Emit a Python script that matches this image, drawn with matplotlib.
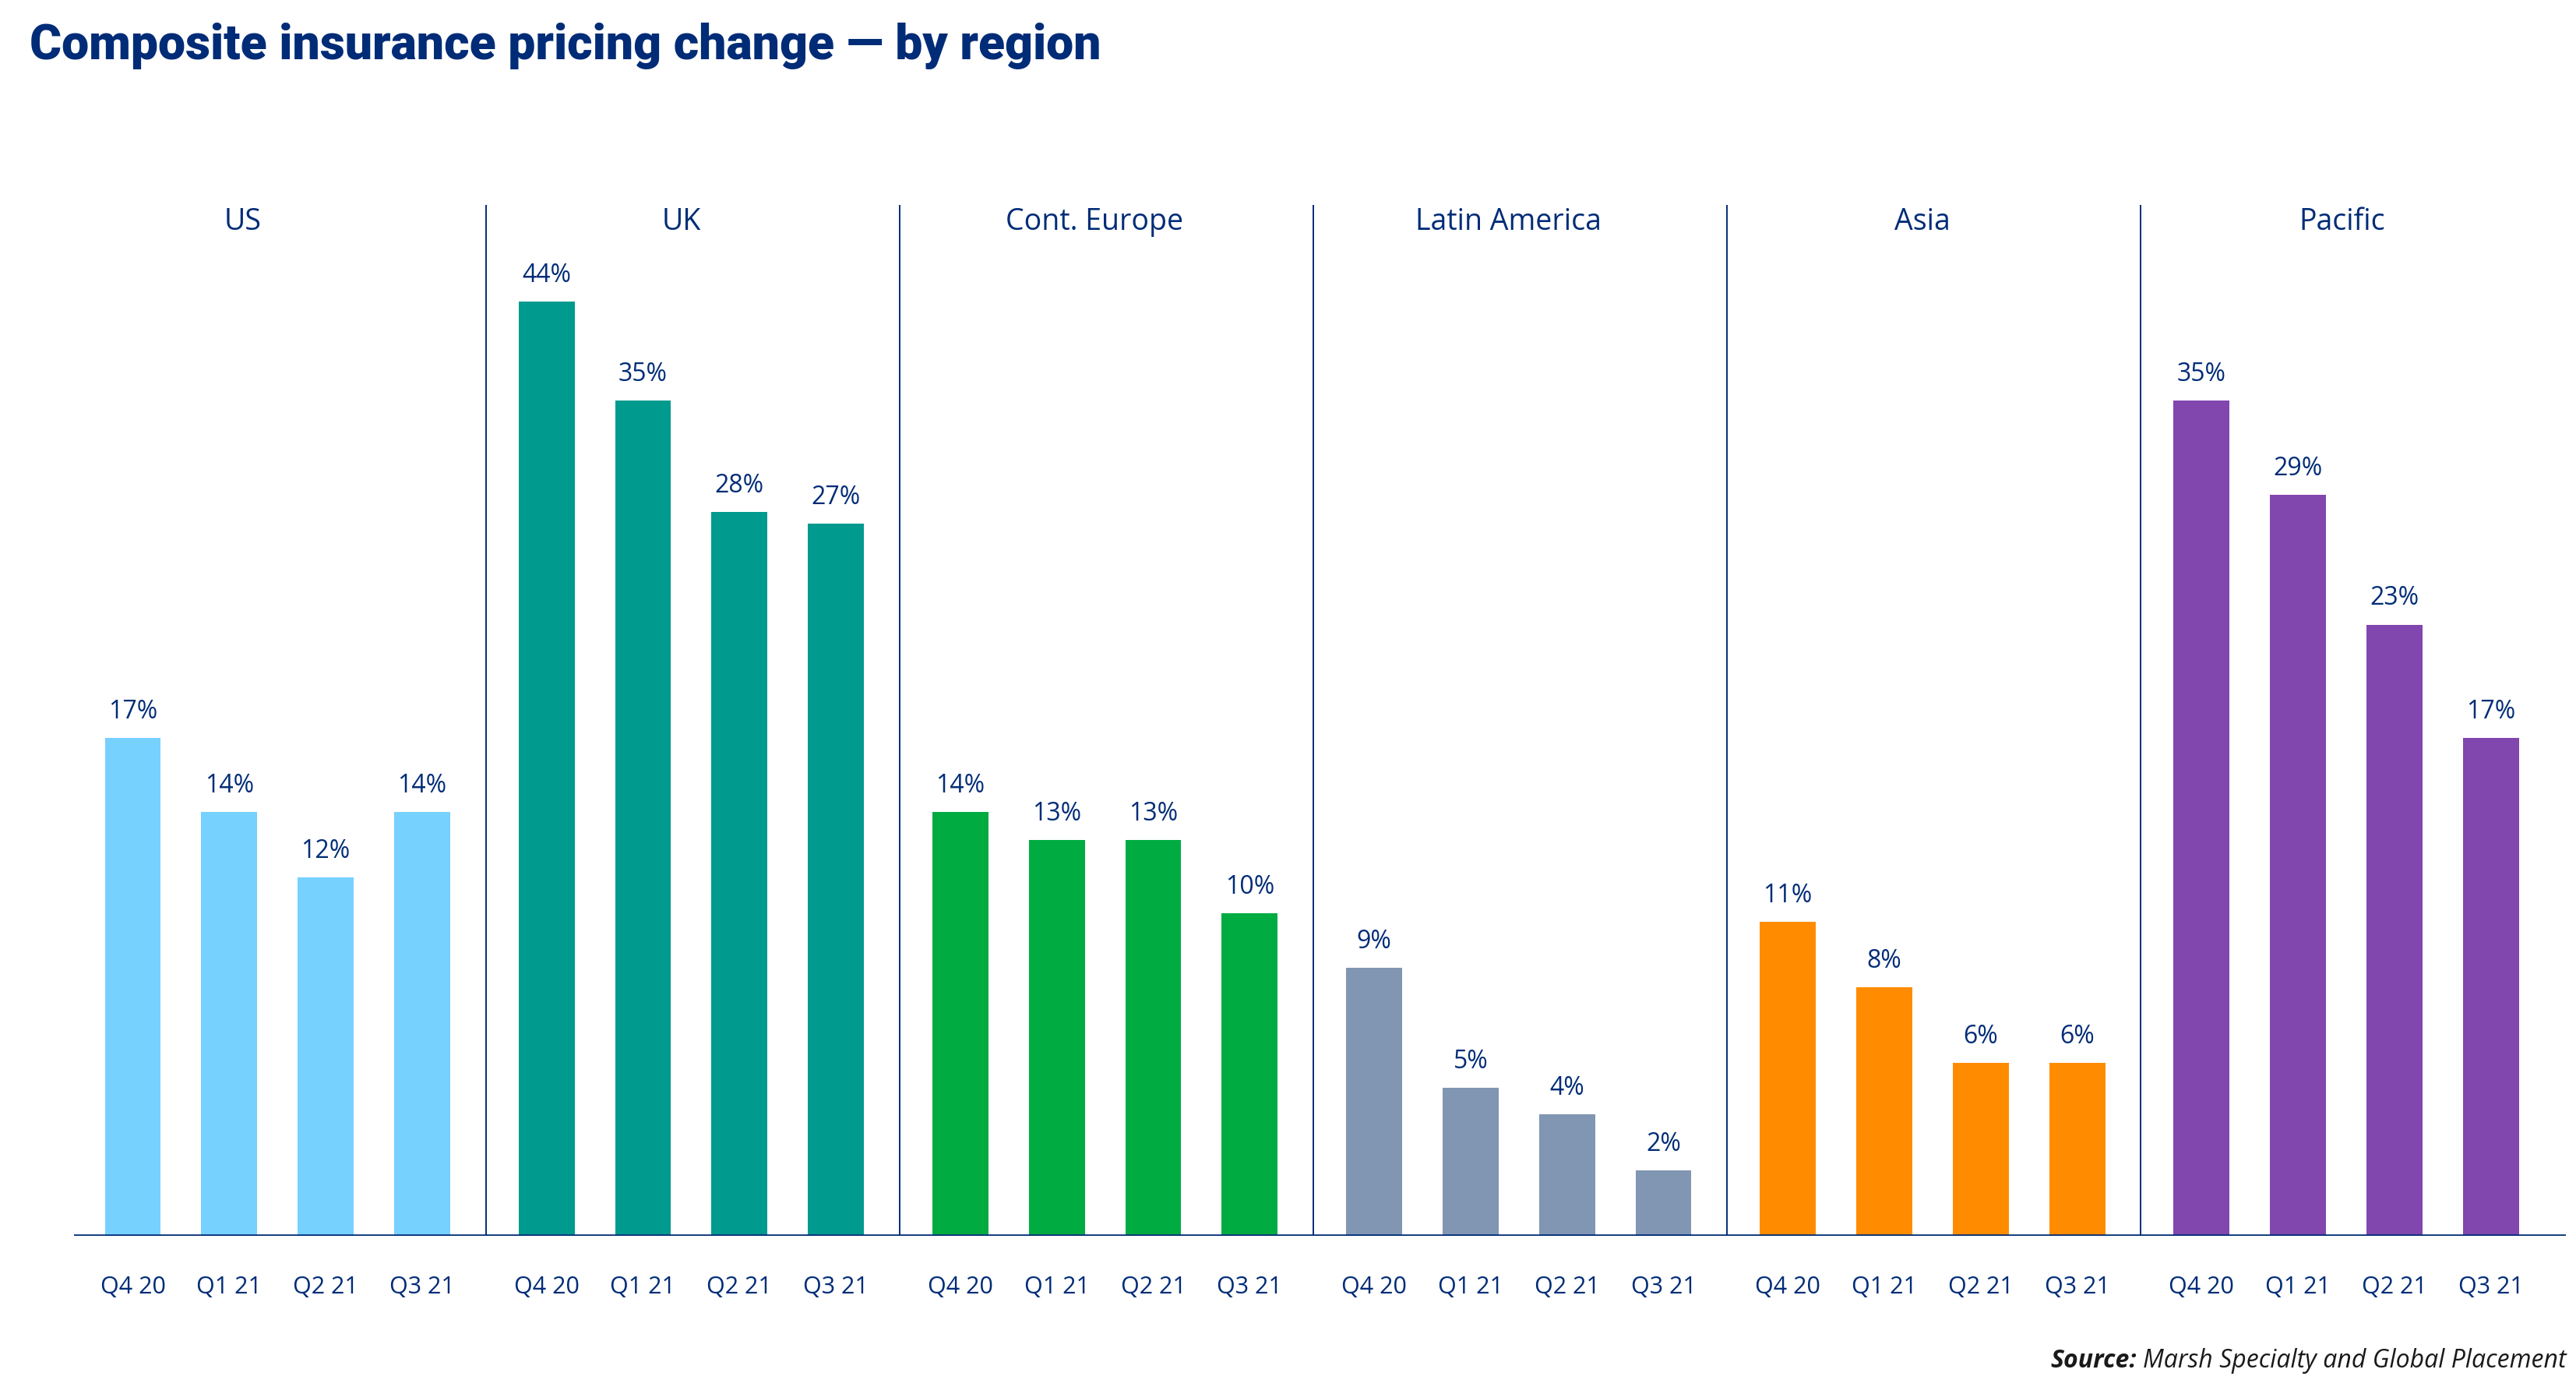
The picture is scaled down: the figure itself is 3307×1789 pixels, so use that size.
import matplotlib.pyplot as plt
from matplotlib.transforms import blended_transform_factory

regions = ['US', 'UK', 'Cont. Europe', 'Latin America', 'Asia', 'Pacific']
quarters = ['Q4 20', 'Q1 21', 'Q2 21', 'Q3 21']

# printed labels (%)
pct_labels = [
    [17, 14, 12, 14],
    [44, 35, 28, 27],
    [14, 13, 13, 10],
    [9, 5, 4, 2],
    [11, 8, 6, 6],
    [35, 29, 23, 17],
]

# bar heights as drawn in the source (not to scale with the labels),
# read off the picture as % of the panel height
bar_heights = [
    [48.3, 41.1, 34.8, 41.1],
    [90.6, 81.0, 70.2, 69.1],
    [41.1, 38.4, 38.4, 31.3],
    [26.0, 14.4, 11.8, 6.4],
    [30.5, 24.1, 16.8, 16.8],
    [81.0, 71.9, 59.3, 48.3],
]

colors = ['#76D1FF', '#009A8E', '#00AC41', '#8096B2', '#FF8C00', '#8246AF']
navy = '#002C77'

txt_font = ['Open Sans', 'DejaVu Sans']
title_font = ['Liberation Sans Narrow', 'Roboto', 'DejaVu Sans']

fig = plt.figure(figsize=(33.07, 17.90), dpi=100)
ax = fig.add_axes([0.0287, 0.1132, 0.9675, 0.7394])
trans = blended_transform_factory(ax.transData, fig.transFigure)

regW = 4.29
margin = 0.63
barW = 0.58
xleft, xright = -0.61, 25.23

dividers = [i * regW - margin for i in range(1, len(regions))]
spans = [-1.38] + dividers + [xright]

xs_all, labels_all = [], []
for i, reg in enumerate(regions):
    xs = [i * regW + j for j in range(len(quarters))]
    ax.bar(xs, bar_heights[i], width=barW, color=colors[i], zorder=2)
    for x, h, p in zip(xs, bar_heights[i], pct_labels[i]):
        ax.annotate(f'{p}%', (x, h), xytext=(0, 13), textcoords='offset points',
                    ha='center', va='bottom', fontsize=23, color=navy,
                    family=txt_font)
    cx = (spans[i] + spans[i + 1]) / 2 - (0.12 if i > 0 else 0)
    ax.text(cx, 0.8408, reg, transform=trans, ha='center', va='center',
            fontsize=27, color=navy, family=txt_font)
    xs_all += xs
    labels_all += quarters

ax.vlines(dividers, 0, 100, color=navy, lw=1.4, zorder=1)
ax.axhline(0, color=navy, lw=2.6, zorder=3)
ax.set_xlim(xleft, xright)
ax.set_ylim(0, 100)
ax.set_xticks(xs_all)
ax.set_xticklabels(labels_all, fontsize=22, color=navy, family=txt_font)
ax.tick_params(axis='x', length=0, pad=36)
ax.set_yticks([])
for s in ax.spines.values():
    s.set_visible(False)

fig.text(0.0115, 0.9575, 'Composite insurance pricing change \u2014 by region',
         fontsize=45, fontweight='heavy', color=navy, family=title_font,
         ha='left', va='baseline')

# source line: bold "Source:" followed by italic text, right aligned
rest = fig.text(0.9962, 0.0196, 'Marsh Specialty and Global Placement',
                fontsize=23, style='italic', color='#1a1a1a', family=txt_font,
                ha='right', va='baseline')
fig.canvas.draw()
bb = rest.get_window_extent()
x0 = bb.x0 / fig.bbox.width
fig.text(x0 - 0.0025, 0.0196, 'Source:', fontsize=23, style='italic',
         fontweight='bold', color='#1a1a1a', family=txt_font,
         ha='right', va='baseline')

fig.savefig('out.png', dpi=100, facecolor='white')
